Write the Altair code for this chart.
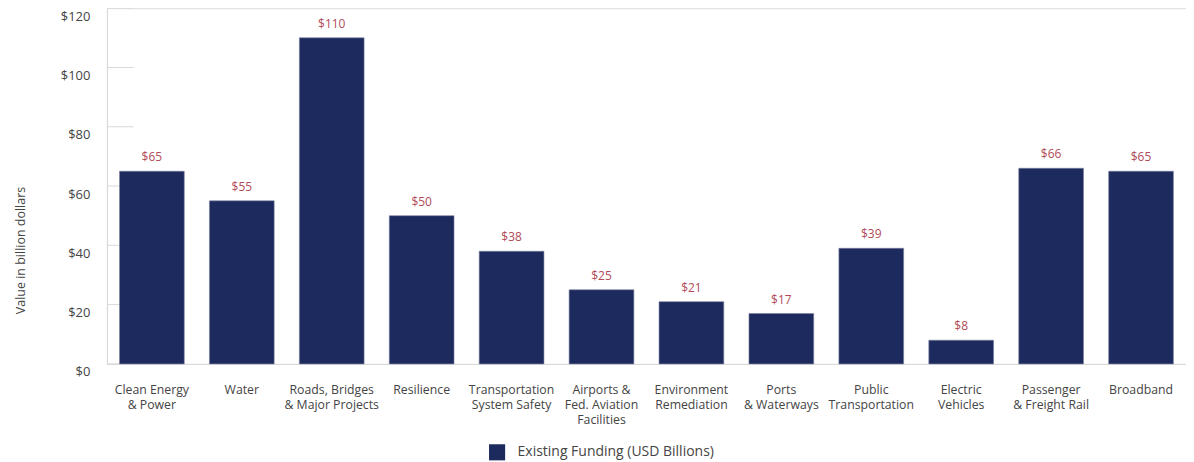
import altair as alt
import pandas as pd

categories = [
    "Clean Energy\n& Power", "Water", "Roads, Bridges\n& Major Projects", "Resilience",
    "Transportation\nSystem Safety", "Airports &\nFed. Aviation\nFacilities",
    "Environment\nRemediation", "Ports\n& Waterways", "Public\nTransportation",
    "Electric\nVehicles", "Passenger\n& Freight Rail", "Broadband",
]
values = [65, 55, 110, 50, 38, 25, 21, 17, 39, 8, 66, 65]
series_name = "Existing Funding (USD Billions)"
y_ticks = [0, 20, 40, 60, 80, 100, 120]

FONT = "Open Sans"
NAVY = "#1c2a5e"
RED = "#b04a58"
TEXT = "#444444"

df = pd.DataFrame({"category": categories, "value": values, "series": series_name})
df["label"] = ["$" + str(v) for v in values]
ticks_df = pd.DataFrame({"t": y_ticks})

x = alt.X(
    "category:N", sort=categories, title=None,
    scale=alt.Scale(paddingInner=0.28, paddingOuter=0.14),
    axis=alt.Axis(labelExpr="split(datum.label, '\\n')", labelAngle=0, ticks=False,
                  domainColor="#d9d9d9", labelPadding=20, labelFontSize=12.3,
                  labelColor=TEXT, labelFont=FONT, labelLineHeight=15, labelBaseline="top"),
)
y_scale = alt.Scale(domain=[0, 120])
y = alt.Y(
    "value:Q", scale=y_scale, title="Value in billion dollars",
    axis=alt.Axis(values=y_ticks, labelExpr="'$' + datum.value", grid=False, ticks=False,
                  domainColor="#d9d9d9", labelPadding=17, labelFontSize=13, labelColor=TEXT,
                  labelOffset=8,
                  labelFont=FONT, titleFont=FONT, titleFontSize=12.5, titleColor=TEXT,
                  titleFontWeight="normal", titleX=-86, titleY=242, titleAngle=-90,
                  titleAlign="center", titleBaseline="middle"),
)

rules = alt.Chart(ticks_df).mark_rule(color="#d9d9d9", strokeWidth=1).encode(
    y=alt.Y("t:Q", scale=y_scale), x=alt.value(0), x2=alt.value(27)
)

bars = alt.Chart(df).mark_bar(stroke="#7c82a0", strokeWidth=0.6).encode(
    x=x, y=y,
    color=alt.Color("series:N", scale=alt.Scale(domain=[series_name], range=[NAVY]),
                    legend=alt.Legend(title=None, orient="none", legendX=382, legendY=436,
                                      symbolType="square", symbolSize=260,
                                      symbolStrokeWidth=0, labelFont=FONT, labelLimit=0,
                                      labelFontSize=14, labelColor=TEXT, labelOffset=12)),
)

texts = alt.Chart(df).mark_text(dy=-7, baseline="bottom", fontSize=12, font=FONT,
                                color=RED).encode(
    x=alt.X("category:N", sort=categories), y=alt.Y("value:Q", scale=y_scale), text="label:N"
)

chart = alt.layer(rules, bars, texts).properties(
    width=1080, height=356,
    autosize=alt.AutoSizeParams(type="none"),
    padding={"left": 99, "top": 0, "right": 0, "bottom": 98},
).configure_view(stroke=None).configure(background="white")

chart.save("out.html", embed_options={"renderer": "svg", "actions": False})
